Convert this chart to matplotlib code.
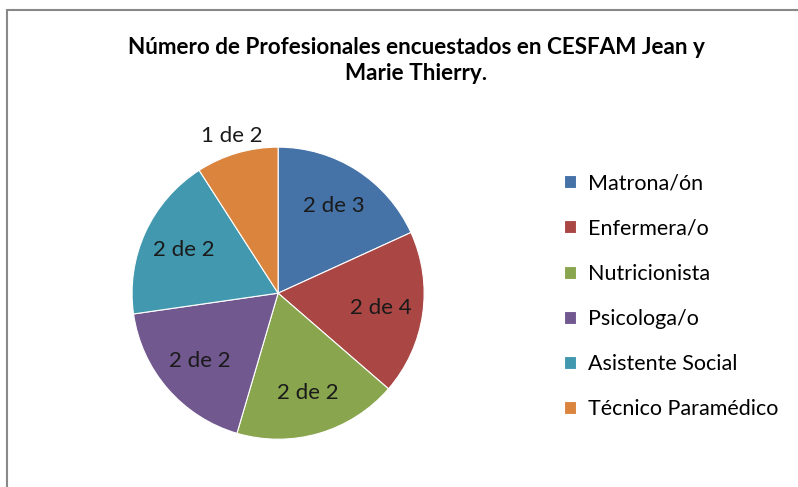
import numpy as np
import matplotlib
matplotlib.use("Agg")
import matplotlib.pyplot as plt
from matplotlib.patches import Rectangle

plt.rcParams["font.family"] = ["Lato", "DejaVu Sans"]

TITLE = "Número de Profesionales encuestados en CESFAM Jean y\nMarie Thierry."
CATEGORIES = ["Matrona/ón", "Enfermera/o", "Nutricionista", "Psicologa/o",
              "Asistente Social", "Técnico Paramédico"]
VALUES = [2, 2, 2, 2, 2, 1]
LABELS = ["2 de 3", "2 de 4", "2 de 2", "2 de 2", "2 de 2", "1 de 2"]
COLORS = ["#4572A7", "#AA4643", "#89A54E", "#71588F", "#4198AF", "#DB843D"]


def main():
    fig = plt.figure(figsize=(7.98, 4.87), dpi=100)
    fig.patch.set_facecolor("white")

    # grey chart frame (right/bottom run off the picture)
    fig.patches.append(Rectangle((7/798, -0.05), 1.2, 1 - 10/487 + 0.05,
                                 transform=fig.transFigure, fill=False,
                                 edgecolor="#888888", linewidth=1.5))

    ax = fig.add_axes([0.1655, 0.098, 0.366, 0.6])
    wedges, texts = ax.pie(VALUES, labels=LABELS, colors=COLORS,
                           startangle=90, counterclock=False,
                           labeldistance=0.71,
                           wedgeprops=dict(edgecolor="white", linewidth=0.8),
                           textprops=dict(fontsize=16, color="#1a1a1a"))
    for t in texts:
        t.set_ha("center")
        t.set_va("center")
    # small slice label sits outside
    w = wedges[-1]
    mid = np.deg2rad((w.theta1 + w.theta2) / 2)
    texts[-1].set_position((1.12 * np.cos(mid), 1.12 * np.sin(mid)))
    ax.set_xlim(-1, 1)
    ax.set_ylim(-1, 1)
    ax.set_aspect("equal")

    fig.text(0.522, 0.876, TITLE, ha="center", va="center", fontsize=16.2,
             fontweight="bold", linespacing=1.25)

    fig.legend(wedges, CATEGORIES, loc="upper left",
               bbox_to_anchor=(0.683, 0.684), frameon=False,
               fontsize=15.5, handlelength=0.55, handleheight=0.55,
               handletextpad=0.55, labelspacing=1.17)

    fig.savefig("out.png", dpi=100)
    plt.close(fig)


if __name__ == "__main__":
    main()
